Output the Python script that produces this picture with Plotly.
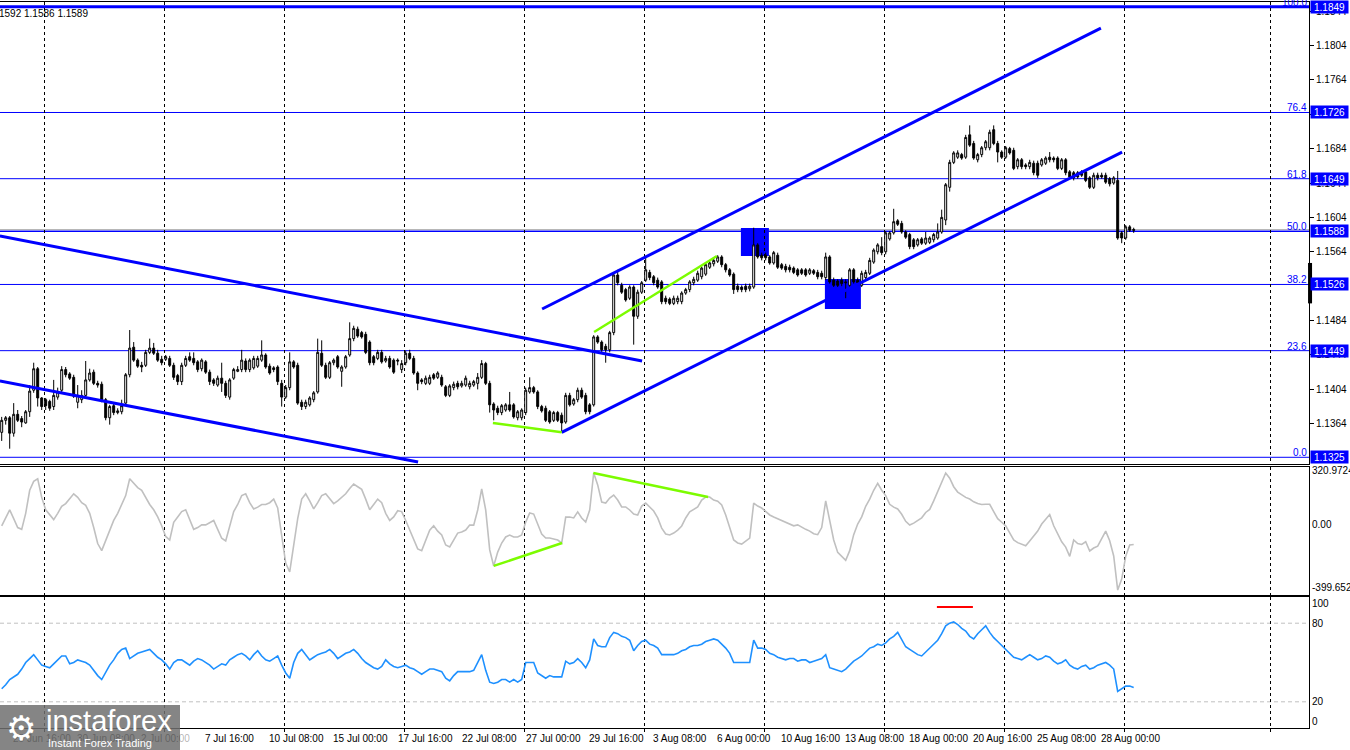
import plotly.graph_objects as go

# ---------------- DATA ----------------
bar_index = list(range(284))

open_ = [
1.1354,1.1368,1.1371,1.1353,1.1375,1.1370,1.1365,1.1378,1.1403,1.1428,
1.1394,1.1392,1.1390,1.1384,1.1395,1.1403,1.1427,1.1422,1.1418,1.1389,
1.1392,1.1397,1.1415,1.1424,1.1411,1.1410,1.1392,1.1371,1.1385,1.1377,
1.1378,1.1388,1.1421,1.1453,1.1438,1.1432,1.1432,1.1447,1.1452,1.1446,
1.1439,1.1439,1.1440,1.1432,1.1420,1.1413,1.1432,1.1442,1.1440,1.1436,
1.1428,1.1436,1.1424,1.1415,1.1409,1.1417,1.1411,1.1395,1.1417,1.1425,
1.1427,1.1437,1.1427,1.1429,1.1431,1.1438,1.1444,1.1431,1.1429,1.1430,
1.1411,1.1395,1.1406,1.1436,1.1432,1.1389,1.1384,1.1386,1.1392,1.1401,
1.1446,1.1432,1.1418,1.1435,1.1442,1.1425,1.1430,1.1444,1.1463,1.1474,
1.1470,1.1468,1.1459,1.1442,1.1440,1.1447,1.1437,1.1440,1.1438,1.1438,
1.1427,1.1435,1.1446,1.1440,1.1423,1.1415,1.1411,1.1411,1.1421,1.1418,
1.1418,1.1407,1.1397,1.1406,1.1411,1.1408,1.1409,1.1407,1.1409,1.1411,
1.1418,1.1434,1.1411,1.1387,1.1382,1.1377,1.1380,1.1386,1.1386,1.1371,
1.1371,1.1377,1.1401,1.1406,1.1401,1.1384,1.1382,1.1378,1.1368,1.1377,
1.1374,1.1366,1.1397,1.1387,1.1392,1.1403,1.1397,1.1386,1.1386,1.1465,
1.1459,1.1454,1.1450,1.1470,1.1537,1.1525,1.1520,1.1510,1.1523,1.1489,
1.1517,1.1531,1.1540,1.1535,1.1531,1.1529,1.1510,1.1509,1.1504,1.1506,
1.1506,1.1516,1.1520,1.1528,1.1531,1.1535,1.1538,1.1546,1.1550,1.1553,
1.1558,1.1549,1.1543,1.1538,1.1524,1.1523,1.1524,1.1521,1.1523,1.1572,
1.1560,1.1560,1.1558,1.1551,1.1560,1.1549,1.1547,1.1546,1.1545,1.1543,
1.1543,1.1543,1.1539,1.1542,1.1540,1.1539,1.1534,1.1558,1.1531,1.1530,
1.1531,1.1529,1.1525,1.1543,1.1531,1.1525,1.1534,1.1539,1.1552,1.1564,
1.1570,1.1564,1.1579,1.1586,1.1600,1.1597,1.1587,1.1584,1.1578,1.1572,
1.1579,1.1574,1.1575,1.1578,1.1580,1.1587,1.1601,1.1639,1.1668,1.1674,
1.1677,1.1674,1.1700,1.1690,1.1671,1.1677,1.1685,1.1685,1.1706,1.1690,
1.1680,1.1674,1.1684,1.1682,1.1663,1.1671,1.1665,1.1663,1.1667,1.1667,
1.1665,1.1667,1.1674,1.1673,1.1673,1.1661,1.1671,1.1657,1.1656,1.1656,
1.1657,1.1657,1.1650,1.1639,1.1653,1.1653,1.1653,1.1649,1.1644,1.1647,
1.1586,1.1580,1.1593,1.1590]

high = [
1.1372,1.1373,1.1373,1.1388,1.1380,1.1373,1.1380,1.1409,1.1435,1.1430,
1.1395,1.1394,1.1392,1.1415,1.1406,1.1431,1.1430,1.1424,1.1421,1.1409,
1.1403,1.1437,1.1428,1.1427,1.1414,1.1413,1.1394,1.1386,1.1387,1.1382,
1.1392,1.1423,1.1473,1.1459,1.1440,1.1436,1.1450,1.1463,1.1458,1.1450,
1.1443,1.1444,1.1443,1.1435,1.1422,1.1435,1.1443,1.1447,1.1447,1.1438,
1.1440,1.1438,1.1427,1.1417,1.1420,1.1435,1.1414,1.1417,1.1429,1.1431,
1.1450,1.1440,1.1440,1.1443,1.1443,1.1461,1.1446,1.1434,1.1431,1.1432,
1.1415,1.1409,1.1447,1.1438,1.1435,1.1392,1.1392,1.1396,1.1402,1.1463,
1.1461,1.1435,1.1437,1.1440,1.1444,1.1432,1.1444,1.1482,1.1478,1.1477,
1.1472,1.1471,1.1461,1.1444,1.1450,1.1450,1.1443,1.1443,1.1440,1.1440,
1.1438,1.1449,1.1450,1.1443,1.1425,1.1417,1.1420,1.1421,1.1423,1.1425,
1.1421,1.1409,1.1410,1.1413,1.1414,1.1414,1.1420,1.1414,1.1415,1.1423,
1.1438,1.1436,1.1414,1.1389,1.1385,1.1387,1.1388,1.1401,1.1388,1.1380,
1.1382,1.1406,1.1418,1.1408,1.1403,1.1386,1.1385,1.1380,1.1379,1.1379,
1.1377,1.1400,1.1400,1.1394,1.1406,1.1406,1.1400,1.1388,1.1467,1.1467,
1.1461,1.1457,1.1472,1.1539,1.1543,1.1528,1.1522,1.1525,1.1525,1.1520,
1.1530,1.1558,1.1543,1.1537,1.1534,1.1531,1.1513,1.1511,1.1513,1.1513,
1.1518,1.1522,1.1531,1.1535,1.1542,1.1547,1.1551,1.1553,1.1557,1.1560,
1.1560,1.1551,1.1545,1.1540,1.1527,1.1525,1.1527,1.1527,1.1592,1.1574,
1.1563,1.1563,1.1560,1.1565,1.1563,1.1551,1.1550,1.1549,1.1547,1.1545,
1.1545,1.1545,1.1545,1.1544,1.1543,1.1542,1.1563,1.1560,1.1534,1.1532,
1.1534,1.1532,1.1545,1.1545,1.1534,1.1542,1.1543,1.1557,1.1568,1.1574,
1.1581,1.1588,1.1588,1.1614,1.1602,1.1600,1.1589,1.1586,1.1580,1.1580,
1.1581,1.1587,1.1582,1.1586,1.1597,1.1613,1.1644,1.1671,1.1681,1.1682,
1.1679,1.1700,1.1711,1.1693,1.1679,1.1687,1.1694,1.1706,1.1711,1.1693,
1.1682,1.1687,1.1686,1.1685,1.1673,1.1673,1.1667,1.1671,1.1670,1.1670,
1.1673,1.1675,1.1680,1.1675,1.1675,1.1673,1.1673,1.1659,1.1658,1.1658,
1.1659,1.1659,1.1652,1.1656,1.1656,1.1656,1.1656,1.1651,1.1652,1.1658,
1.1588,1.1595,1.1595,1.1592]

low = [
1.1344,1.1363,1.1335,1.1349,1.1366,1.1360,1.1364,1.1372,1.1400,1.1384,
1.1380,1.1380,1.1379,1.1380,1.1392,1.1401,1.1418,1.1415,1.1394,1.1382,
1.1388,1.1395,1.1413,1.1409,1.1406,1.1389,1.1368,1.1363,1.1374,1.1375,
1.1375,1.1386,1.1418,1.1436,1.1429,1.1424,1.1430,1.1445,1.1444,1.1436,
1.1432,1.1437,1.1430,1.1415,1.1409,1.1409,1.1430,1.1436,1.1432,1.1424,
1.1425,1.1422,1.1409,1.1408,1.1407,1.1401,1.1394,1.1392,1.1415,1.1424,
1.1424,1.1424,1.1424,1.1427,1.1429,1.1436,1.1428,1.1421,1.1424,1.1409,
1.1384,1.1393,1.1403,1.1428,1.1386,1.1380,1.1381,1.1384,1.1389,1.1399,
1.1430,1.1416,1.1416,1.1432,1.1428,1.1407,1.1428,1.1442,1.1460,1.1464,
1.1463,1.1445,1.1432,1.1432,1.1438,1.1434,1.1435,1.1428,1.1422,1.1432,
1.1423,1.1432,1.1438,1.1421,1.1403,1.1410,1.1409,1.1409,1.1415,1.1416,
1.1407,1.1395,1.1395,1.1403,1.1404,1.1406,1.1407,1.1404,1.1407,1.1404,
1.1416,1.1409,1.1377,1.1368,1.1374,1.1374,1.1378,1.1378,1.1370,1.1368,
1.1368,1.1374,1.1399,1.1399,1.1381,1.1377,1.1366,1.1364,1.1366,1.1366,
1.1354,1.1364,1.1384,1.1385,1.1389,1.1393,1.1375,1.1375,1.1384,1.1457,
1.1447,1.1435,1.1447,1.1467,1.1525,1.1515,1.1506,1.1508,1.1456,1.1486,
1.1515,1.1529,1.1531,1.1525,1.1521,1.1503,1.1503,1.1502,1.1502,1.1503,
1.1503,1.1514,1.1517,1.1525,1.1529,1.1532,1.1536,1.1544,1.1547,1.1551,
1.1546,1.1540,1.1535,1.1515,1.1517,1.1517,1.1517,1.1518,1.1521,1.1556,
1.1554,1.1554,1.1549,1.1549,1.1544,1.1543,1.1540,1.1540,1.1538,1.1535,
1.1537,1.1535,1.1537,1.1537,1.1532,1.1532,1.1531,1.1527,1.1523,1.1523,
1.1524,1.1510,1.1523,1.1527,1.1525,1.1523,1.1531,1.1537,1.1550,1.1561,
1.1560,1.1561,1.1577,1.1584,1.1594,1.1585,1.1579,1.1567,1.1567,1.1570,
1.1572,1.1572,1.1573,1.1575,1.1578,1.1585,1.1595,1.1634,1.1666,1.1672,
1.1671,1.1672,1.1686,1.1671,1.1668,1.1674,1.1682,1.1682,1.1688,1.1668,
1.1672,1.1672,1.1677,1.1659,1.1660,1.1660,1.1660,1.1660,1.1653,1.1650,
1.1663,1.1665,1.1668,1.1668,1.1659,1.1659,1.1653,1.1649,1.1647,1.1649,
1.1651,1.1645,1.1637,1.1637,1.1647,1.1649,1.1643,1.1640,1.1642,1.1578,
1.1574,1.1578,1.1587,1.1586]

close = [
1.1368,1.1371,1.1353,1.1375,1.1368,1.1366,1.1378,1.1402,1.1428,1.1394,
1.1384,1.1385,1.1382,1.1397,1.1401,1.1427,1.1421,1.1417,1.1396,1.1397,
1.1397,1.1415,1.1423,1.1411,1.1409,1.1392,1.1371,1.1384,1.1377,1.1379,
1.1385,1.1421,1.1452,1.1438,1.1431,1.1430,1.1447,1.1452,1.1446,1.1438,
1.1435,1.1442,1.1432,1.1418,1.1413,1.1432,1.1440,1.1438,1.1435,1.1427,
1.1438,1.1424,1.1413,1.1411,1.1417,1.1411,1.1397,1.1415,1.1427,1.1427,
1.1438,1.1427,1.1438,1.1440,1.1440,1.1444,1.1430,1.1423,1.1427,1.1413,
1.1395,1.1406,1.1436,1.1430,1.1388,1.1384,1.1389,1.1394,1.1400,1.1447,
1.1432,1.1418,1.1435,1.1438,1.1430,1.1430,1.1442,1.1463,1.1475,1.1466,
1.1465,1.1447,1.1435,1.1435,1.1447,1.1436,1.1440,1.1430,1.1424,1.1437,
1.1434,1.1446,1.1440,1.1423,1.1411,1.1413,1.1417,1.1418,1.1417,1.1423,
1.1409,1.1397,1.1408,1.1410,1.1407,1.1411,1.1417,1.1411,1.1413,1.1418,
1.1434,1.1411,1.1386,1.1380,1.1377,1.1385,1.1386,1.1380,1.1372,1.1378,
1.1380,1.1403,1.1406,1.1401,1.1384,1.1379,1.1368,1.1366,1.1377,1.1368,
1.1365,1.1397,1.1386,1.1392,1.1403,1.1395,1.1378,1.1378,1.1465,1.1459,
1.1450,1.1450,1.1470,1.1537,1.1528,1.1517,1.1508,1.1523,1.1489,1.1517,
1.1528,1.1543,1.1534,1.1528,1.1523,1.1506,1.1506,1.1504,1.1510,1.1510,
1.1516,1.1520,1.1529,1.1532,1.1539,1.1545,1.1549,1.1551,1.1554,1.1558,
1.1549,1.1543,1.1537,1.1520,1.1520,1.1520,1.1520,1.1524,1.1572,1.1558,
1.1557,1.1557,1.1551,1.1563,1.1546,1.1545,1.1543,1.1543,1.1540,1.1537,
1.1539,1.1537,1.1543,1.1539,1.1535,1.1535,1.1558,1.1529,1.1525,1.1525,
1.1527,1.1528,1.1543,1.1529,1.1528,1.1539,1.1540,1.1554,1.1566,1.1572,
1.1563,1.1586,1.1586,1.1599,1.1596,1.1587,1.1581,1.1570,1.1570,1.1578,
1.1574,1.1580,1.1580,1.1584,1.1587,1.1604,1.1642,1.1668,1.1679,1.1679,
1.1673,1.1697,1.1688,1.1673,1.1677,1.1685,1.1692,1.1703,1.1690,1.1680,
1.1674,1.1685,1.1679,1.1661,1.1671,1.1663,1.1663,1.1668,1.1656,1.1653,
1.1671,1.1673,1.1671,1.1671,1.1661,1.1671,1.1656,1.1651,1.1650,1.1651,
1.1653,1.1647,1.1639,1.1653,1.1650,1.1651,1.1645,1.1643,1.1650,1.1580,
1.1580,1.1593,1.1589,1.1589]

cci = [
-10,40,80,30,-20,-30,60,190,240,255,
150,80,50,25,60,100,115,140,170,150,
120,105,60,-20,-110,-150,-90,-30,20,60,
110,160,255,230,205,190,150,110,80,40,
-10,-70,-90,10,40,70,80,30,-30,-20,
-5,-5,10,20,-30,-80,-95,-10,70,110,
160,170,120,85,95,110,110,120,140,90,
-80,-220,-270,-120,30,140,170,130,85,120,
160,170,140,115,130,150,170,200,225,210,
195,140,80,110,140,120,60,20,40,75,
70,20,-35,-80,-140,-150,-90,-35,-10,-40,
-62,-118,-129,-90,-51,-45,-34,-6,-6,79,
197,79,-146,-236,-158,-107,-73,-62,-73,-73,
-62,11,62,56,-6,-56,-79,-79,-84,-90,
-107,39,39,34,68,34,11,79,287,220,
124,118,146,163,135,96,96,79,56,51,
101,118,96,73,34,-23,-56,-62,-51,-34,
-11,34,68,84,96,135,152,152,135,129,
107,51,-17,-90,-107,-113,-96,-79,118,101,
90,68,51,40,30,20,10,0,-10,-5,
-20,-30,-40,-55,-60,-20,130,20,-90,-160,
-185,-205,-150,-60,0,40,100,140,190,229,
190,160,111,95,85,55,15,-6,5,20,
35,65,82,130,180,240,287,258,210,180,
165,150,141,125,115,110,111,111,70,30,
10,-10,-50,-90,-105,-115,-123,-95,-70,-40,
0,25,53,-10,-60,-100,-130,-182,-90,-110,
-115,-100,-152,-135,-125,-80,-40,-94,-180,-372,
-310,-182,-118,-115]

rsi = [
30,33,37,39,41,45,50,53,56,52,
48,47,46,49,52,55,55,49,50,52,
51,50,48,44,40,37,43,48,52,57,
60,61,53,55,57,58,59,60,57,54,
52,49,45,50,52,52,50,48,51,53,
52,50,48,45,47,49,48,52,54,56,
57,55,52,56,59,55,52,51,53,55,
48,42,38,50,57,60,56,52,54,56,
57,58,60,57,53,55,57,58,60,57,
53,50,48,46,45,47,52,49,47,46,
47,48,46,45,43,41,43,45,45,44,
43,38,36,40,43,43,43,43,44,50,
56,44,35,34,35,37,37,35,37,35,
37,50,50,50,42,40,38,40,39,39,
39,51,49,50,53,50,46,52,68,63,
62,62,69,73,72,70,69,67,59,63,
66,67,64,63,61,56,56,56,56,57,
59,60,62,63,63,64,66,67,68,67,
64,61,57,50,50,50,50,50,67,61,
61,60,57,56,54,53,52,53,53,51,
52,52,50,51,52,53,56,46,45,44,
43,45,48,51,53,55,58,61,62,64,
63,65,68,70,73,68,62,60,58,56,
55,58,61,64,67,72,78,80,81,79,
76,74,70,68,72,75,78,73,69,66,
63,60,57,54,53,52,54,56,54,52,
53,55,54,51,49,50,52,48,46,45,
47,48,45,46,48,49,50,48,45,28,
30,32,32,31]

fib_levels = [1.1849, 1.1726, 1.1649, 1.1588, 1.1526, 1.1449, 1.1325]
fib_labels = ["100.0", "76.4", "61.8", "50.0", "38.2", "23.6", "0.0"]
price_ticks = [1.1364, 1.1404, 1.1444, 1.1484, 1.1524, 1.1564, 1.1604,
               1.1644, 1.1684, 1.1724, 1.1764, 1.1804, 1.1844]
bid_price = 1.1589
day_range = (1.1504, 1.1551)
header_text = "1592 1.1586 1.1589"

time_labels = ["25 Jun 16:00", "30 Jun 08:00", "2 Jul 00:00", "7 Jul 16:00",
               "10 Jul 08:00", "15 Jul 00:00", "17 Jul 16:00", "22 Jul 08:00",
               "27 Jul 00:00", "29 Jul 16:00", "3 Aug 08:00", "6 Aug 00:00",
               "10 Aug 16:00", "13 Aug 08:00", "18 Aug 00:00", "20 Aug 16:00",
               "25 Aug 08:00", "28 Aug 00:00"]
time_label_bars = [2.4, 18.4, 34.4, 50.4, 66.4, 82.4, 98.6, 114.6, 130.6,
                   146.4, 162.4, 178.2, 194.2, 210.4, 226.4, 242.4, 258.4, 274.2]
grid_bars = [10.8, 40.8, 70.8, 100.8, 130.8, 160.8, 190.8, 220.8, 250.8, 280.8, 317.1]

# user-drawn objects: ((bar, value), (bar, value))
blue_trend_lines = [((-0.45, 1.15824), (160.1, 1.14370)),
                    ((-0.45, 1.14137), (104.1, 1.13195)),
                    ((140.0, 1.13540), (280.1, 1.16800)),
                    ((135.1, 1.14975), (274.8, 1.18242))]
green_price_lines = [((122.8, 1.13649), (140.0, 1.13540)),
                     ((148.1, 1.14707), (178.8, 1.15591))]
green_cci_lines = [((123.0, -236), (140.1, -107)),
                   ((147.9, 287), (176.6, 152))]
red_rsi_line = ((233.8, 92.4), (242.8, 92.4))
blue_boxes = [((184.8, 1.15917), (191.8, 1.15591)),
              ((205.8, 1.15324), (214.8, 1.14975))]

CCI_MAX, CCI_MIN = 320.9724, -399.652

# ---------------- FIGURE ----------------
BLUE = "#0000FF"
FONT = "Liberation Sans, Arial, sans-serif"
x_range = [-0.425, 326.825]

fig = go.Figure()

fig.add_trace(go.Candlestick(
    x=bar_index, open=open_, high=high, low=low, close=close,
    increasing=dict(line=dict(color="black", width=1), fillcolor="white"),
    decreasing=dict(line=dict(color="black", width=1), fillcolor="black"),
    whiskerwidth=0, xaxis="x", yaxis="y", showlegend=False, hoverinfo="skip"))

for (a, b) in blue_trend_lines:
    fig.add_trace(go.Scatter(x=[a[0], b[0]], y=[a[1], b[1]], mode="lines",
                             line=dict(color=BLUE, width=3), xaxis="x", yaxis="y",
                             showlegend=False, hoverinfo="skip"))
for (a, b) in green_price_lines:
    fig.add_trace(go.Scatter(x=[a[0], b[0]], y=[a[1], b[1]], mode="lines",
                             line=dict(color="#7CFC00", width=2.5), xaxis="x", yaxis="y",
                             showlegend=False, hoverinfo="skip"))

fig.add_trace(go.Scatter(x=bar_index, y=cci, mode="lines",
                         line=dict(color="#C0C0C0", width=1.6), xaxis="x2", yaxis="y2",
                         showlegend=False, hoverinfo="skip"))
for (a, b) in green_cci_lines:
    fig.add_trace(go.Scatter(x=[a[0], b[0]], y=[a[1], b[1]], mode="lines",
                             line=dict(color="#7CFC00", width=2.5), xaxis="x2", yaxis="y2",
                             showlegend=False, hoverinfo="skip"))

fig.add_trace(go.Scatter(x=bar_index, y=rsi, mode="lines",
                         line=dict(color="#1E90FF", width=1.6), xaxis="x3", yaxis="y3",
                         showlegend=False, hoverinfo="skip"))
fig.add_trace(go.Scatter(x=[red_rsi_line[0][0], red_rsi_line[1][0]],
                         y=[red_rsi_line[0][1], red_rsi_line[1][1]], mode="lines",
                         line=dict(color="#FF0000", width=2), xaxis="x3", yaxis="y3",
                         showlegend=False, hoverinfo="skip"))

shapes = []
# fib levels
for lvl in fib_levels:
    w = 3 if lvl == fib_levels[0] else (1.5 if lvl == 1.1588 else 1)
    shapes.append(dict(type="line", xref="paper", yref="y", x0=0, x1=1,
                       y0=lvl, y1=lvl, line=dict(color=BLUE, width=w), layer="below"))
# bid line
shapes.append(dict(type="line", xref="paper", yref="y", x0=0, x1=1,
                   y0=bid_price + 0.00008, y1=bid_price + 0.00008,
                   line=dict(color="#B0B0B0", width=1), layer="below"))
# blue boxes
for (a, b) in blue_boxes:
    shapes.append(dict(type="rect", xref="x", yref="y", x0=a[0], x1=b[0],
                       y0=a[1], y1=b[1], fillcolor=BLUE, line=dict(width=0),
                       layer="below"))
# RSI levels
for lv in (80, 20):
    shapes.append(dict(type="line", xref="paper", yref="y3", x0=0, x1=1,
                       y0=lv, y1=lv, line=dict(color="#C0C0C0", width=1, dash="4px,3px"),
                       layer="below"))
# day range bar on price scale
shapes.append(dict(type="line", xref="paper", yref="y", x0=1.0008, x1=1.0008,
                   y0=day_range[0], y1=day_range[1], line=dict(color="black", width=4)))
# logo box
shapes.append(dict(type="rect", xref="paper", yref="paper", x0=0, x1=180 / 1309,
                   y0=-0.031, y1=0.0317, fillcolor="rgba(112,112,112,0.85)",
                   line=dict(width=0), layer="above"))

annotations = []
# fib labels and price boxes
for lvl, lab in zip(fib_levels, fib_labels):
    annotations.append(dict(xref="paper", yref="y", x=1, y=lvl, xanchor="right",
                            yanchor="bottom", yshift=-3, text=lab, showarrow=False,
                            font=dict(family=FONT, size=10, color=BLUE)))
    annotations.append(dict(xref="paper", yref="y", x=1, y=lvl, xanchor="left",
                            yanchor="middle", xshift=1, text=f"{lvl:.4f}", showarrow=False,
                            bgcolor=BLUE, width=35, height=10, borderpad=1,
                            font=dict(family=FONT, size=10, color="white")))
# header
annotations.append(dict(xref="paper", yref="paper", x=0, y=1, xanchor="left",
                        yanchor="top", xshift=-3, yshift=-4, text=header_text,
                        showarrow=False, font=dict(family=FONT, size=10, color="black")))
# time labels
for b, t in zip(time_label_bars, time_labels):
    col = "rgba(30,30,30,0.35)" if b < 45 else "black"
    annotations.append(dict(xref="x3", yref="paper", x=b, y=-0.0138, xanchor="left",
                            yanchor="middle", text=t, showarrow=False,
                            font=dict(family=FONT, size=10, color=col)))
# logo text
annotations.append(dict(xref="paper", yref="paper", x=44 / 1309, y=0.010,
                        xanchor="left", yanchor="middle", text="instaforex",
                        showarrow=False, font=dict(family=FONT, size=29, color="white")))
annotations.append(dict(xref="paper", yref="paper", x=46 / 1309, y=-0.0205,
                        xanchor="left", yanchor="middle", text="Instant Forex Trading",
                        showarrow=False, font=dict(family=FONT, size=11, color="white")))
annotations.append(dict(xref="paper", yref="paper", x=4 / 1309, y=0.0,
                        xanchor="left", yanchor="middle", text="\u2699",
                        showarrow=False, font=dict(family="DejaVu Sans", size=34, color="white")))

xcommon = dict(range=x_range, showgrid=True, gridcolor="black", griddash="3px,3px",
               gridwidth=1, tickmode="array", tickvals=grid_bars, showticklabels=False,
               showline=True, linecolor="black", linewidth=1, mirror=True,
               zeroline=False, fixedrange=True)
ycommon = dict(side="right", showline=True, linecolor="black", linewidth=1,
               showgrid=False, zeroline=False, ticks="", fixedrange=True,
               tickfont=dict(family=FONT, size=10, color="black"))

fig.update_layout(
    width=1350, height=750,
    margin=dict(l=0, r=41, t=2, b=22, autoexpand=False),
    paper_bgcolor="white", plot_bgcolor="white",
    hovermode=False, showlegend=False,
    xaxis=dict(**xcommon, anchor="y", ticks="", rangeslider=dict(visible=False)),
    xaxis2=dict(**xcommon, anchor="y2", matches="x", ticks=""),
    xaxis3=dict(**xcommon, anchor="y3", matches="x", ticks="outside", ticklen=3,
                tickcolor="black"),
    yaxis=dict(**{**ycommon, "ticks": "outside"}, domain=[0.36364, 1.0],
               range=[1.13172, 1.18545], anchor="x", tickvals=price_ticks,
               ticktext=[f"{v:.4f}" for v in price_ticks], ticklen=4, tickcolor="black"),
    yaxis2=dict(**ycommon, domain=[0.18320, 0.35950], range=[CCI_MIN, CCI_MAX],
                anchor="x2", tickvals=[304.1, 0, -360.2],
                ticktext=[f"{CCI_MAX:.4f}", "0.00", f"{CCI_MIN:.3f}"]),
    yaxis3=dict(**ycommon, domain=[0.0, 0.18044], range=[0, 100], anchor="x3",
                tickvals=[94.7, 80, 20, 4.6], ticktext=["100", "80", "20", "0"]),
    shapes=shapes, annotations=annotations,
)

fig.write_html("out.html", config={"displayModeBar": False},
               post_script="document.body.style.margin='0px';document.body.style.overflow='hidden';")
